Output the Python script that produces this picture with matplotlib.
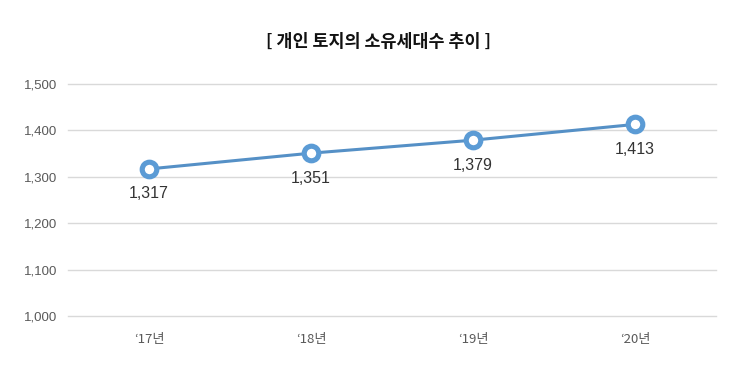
import matplotlib
matplotlib.use("Agg")
import matplotlib.pyplot as plt

plt.rcParams['font.family'] = ['Noto Sans CJK KR', 'DejaVu Sans']

categories = ["‘17년", "‘18년", "‘19년", "‘20년"]
values = [1317, 1351, 1379, 1413]
yticks = [1000, 1100, 1200, 1300, 1400, 1500]
title = "[ 개인 토지의 소유세대수 추이 ]"

fig = plt.figure(figsize=(7.5, 3.67), dpi=100)
ax = fig.add_axes([0.0907, 0.139, 0.864, 0.632])

x = list(range(len(categories)))
ax.plot(x, values, color="#5590C6", linewidth=2.2, marker="o", markersize=10.5,
        markerfacecolor="white", markeredgecolor="#5B9BD5", markeredgewidth=3.7, zorder=3)
for xi, v in zip(x, values):
    ax.annotate(f"{v:,}", (xi, v), xytext=(0, -18), textcoords="offset points",
                ha="center", va="center", fontsize=11.5, color="#333333",
                family=["Liberation Sans", "DejaVu Sans"])

ax.set_xlim(-0.5, len(categories) - 0.5)
ax.set_ylim(1000, 1500)
ax.set_yticks(yticks)
ax.set_yticklabels([f"{t:,}" for t in yticks], family=["Liberation Sans", "DejaVu Sans"])
ax.set_xticks(x)
ax.set_xticklabels(categories)
ax.grid(axis="y", color="#D9D9D9", linewidth=1)
for gl in ax.get_ygridlines():
    gl.set_clip_on(False)
ax.set_axisbelow(True)
for s in ax.spines.values():
    s.set_visible(False)
ax.tick_params(axis="both", length=0, labelsize=9.5, colors="#595959")
ax.tick_params(axis="y", pad=8)
ax.tick_params(axis="x", pad=12)

fig.text(0.505, 0.885, title, ha="center", va="center", fontsize=12.5, fontweight="bold", color="#111111")

fig.savefig("out.png", dpi=100, facecolor="white")
